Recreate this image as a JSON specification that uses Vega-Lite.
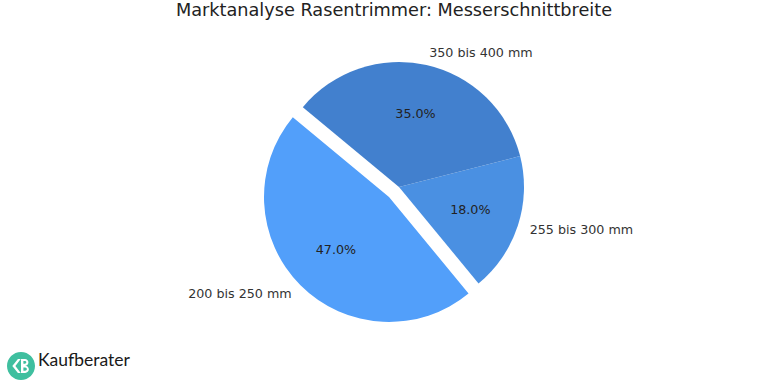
{
  "$schema": "https://vega.github.io/schema/vega-lite/v6.json",
  "width": 742,
  "height": 326,
  "padding": {"left": 7, "top": 2, "right": 0, "bottom": 0},
  "background": "white",
  "title": {
    "text": "Marktanalyse Rasentrimmer: Messerschnittbreite",
    "font": "DejaVu Sans",
    "fontSize": 17.7,
    "fontWeight": "normal",
    "color": "#222222",
    "anchor": "middle",
    "offset": 4,
    "dx": -5
  },
  "config": {"view": {"stroke": null}},
  "data": {
    "values": [
      {"label": "200 bis 250 mm", "share": 0.47},
      {"label": "255 bis 300 mm", "share": 0.18},
      {"label": "350 bis 400 mm", "share": 0.35}
    ]
  },
  "encoding": {
    "theta": {"field": "share", "type": "quantitative", "stack": true, "scale": {"range": [-0.878, 5.405]}},
    "order": {"field": "label", "sort": "descending"},
    "detail": {"field": "label"}
  },
  "layer": [
    {
      "mark": {"type": "arc", "outerRadius": 125},
      "encoding": {
        "color": {"field": "label", "type": "nominal", "legend": null,
          "scale": {"domain": ["200 bis 250 mm", "255 bis 300 mm", "350 bis 400 mm"], "range": ["#529ffa", "#4a90e2", "#4280ce"]}},
        "opacity": {"condition": {"test": "datum.label === '200 bis 250 mm'", "value": 0}, "value": 1}
      }
    },
    {
      "mark": {"type": "arc", "outerRadius": 125, "xOffset": -10, "yOffset": 10},
      "encoding": {
        "color": {"field": "label", "type": "nominal", "legend": null},
        "opacity": {"condition": {"test": "datum.label === '200 bis 250 mm'", "value": 1}, "value": 0}
      }
    },
    {
      "mark": {"type": "text", "radius": 75, "font": "DejaVu Sans", "fontSize": 12.7, "fill": "#222222"},
      "encoding": {
        "text": {"field": "share", "type": "quantitative", "format": ".1%"},
        "opacity": {"condition": {"test": "datum.label === '200 bis 250 mm'", "value": 0}, "value": 1}
      }
    },
    {
      "mark": {"type": "text", "radius": 75, "font": "DejaVu Sans", "fontSize": 12.7, "fill": "#222222", "xOffset": -10, "yOffset": 10},
      "encoding": {
        "text": {"field": "share", "type": "quantitative", "format": ".1%"},
        "opacity": {"condition": {"test": "datum.label === '200 bis 250 mm'", "value": 1}, "value": 0}
      }
    },
    {
      "mark": {"type": "text", "radius": 137.5, "font": "DejaVu Sans", "fontSize": 12.7, "fill": "#333333", "align": "left", "baseline": "middle"},
      "encoding": {
        "text": {"field": "label"},
        "opacity": {"condition": {"test": "datum.label === '200 bis 250 mm'", "value": 0}, "value": 1}
      }
    },
    {
      "mark": {"type": "text", "radius": 137.5, "font": "DejaVu Sans", "fontSize": 12.7, "fill": "#333333", "align": "right", "baseline": "middle", "xOffset": -10, "yOffset": 10},
      "encoding": {
        "text": {"field": "label"},
        "opacity": {"condition": {"test": "datum.label === '200 bis 250 mm'", "value": 1}, "value": 0}
      }
    },
    {
      "mark": {"type": "point", "opacity": 0, "filled": true},
      "encoding": {
        "fill": {
          "datum": "Kaufberater",
          "scale": {"range": ["#3fbf9f"]},
          "legend": {
            "orient": "none", "legendX": -21, "legendY": 328,
            "title": null,
            "symbolType": "M1,0A1,1,0,1,1,-1,0A1,1,0,1,1,1,0Z M-0.62,0 L-0.22,0.5 L-0.02,0.5 L-0.4,0 L-0.02,-0.5 L-0.22,-0.5 Z M0,-0.5 L0,0.5 L0.3,0.5 A0.26,0.26,0,0,0,0.3,-0.02 A0.24,0.24,0,0,0,0.28,-0.5 Z M0.17,-0.36 L0.28,-0.36 A0.1,0.1,0,0,1,0.28,-0.16 L0.17,-0.16 Z M0.17,0.1 L0.3,0.1 A0.12,0.12,0,0,1,0.3,0.34 L0.17,0.34 Z",
            "symbolSize": 784,
            "symbolOpacity": 1, "symbolStrokeWidth": 0,
            "labelFont": "Lato", "labelFontSize": 17.5, "labelColor": "#1a1a1a",
            "labelBaseline": "alphabetic",
            "labelOffset": 3, "padding": 0
          }
        }
      }
    }
  ]
}
